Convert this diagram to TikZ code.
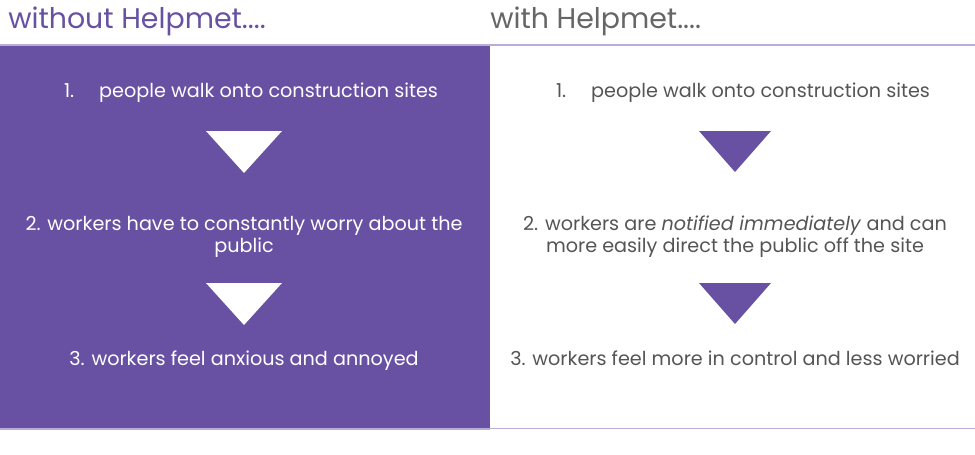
\documentclass[tikz,border=0pt]{standalone}
\usepackage{fontspec}
\setmainfont{Poppins}
\newfontfamily\bodyfont{Poppins}
\newfontfamily\headfont{Poppins}
\definecolor{hmpurple}{HTML}{6851A2}
\definecolor{hmline}{HTML}{B9ADD6}
\definecolor{hmgrey}{HTML}{555555}
\definecolor{hmhead}{HTML}{666666}
\begin{document}
\begin{tikzpicture}[x=0.75pt,y=-0.75pt,
  headtext/.style={anchor=west,inner sep=0pt,font=\headfont\fontsize{21.3}{24}\selectfont},
  steptext/.style={align=center,inner sep=0pt,text height=10.5pt,text depth=3.5pt,
    font=\bodyfont\fontsize{14.4}{16.5}\selectfont}]
\useasboundingbox (0,0) rectangle (975,454);
\fill[white] (0,0) rectangle (975,454);
% panels
\fill[hmpurple] (0,45) rectangle (490,429);
\draw[hmline,line width=1.2pt] (0,45) -- (975,45);
\draw[hmline,line width=1.2pt] (490,428.5) -- (975,428.5);
\draw[hmline,line width=0.8pt] (0,429) -- (490,429);
% headings
\node[headtext,text=hmpurple] (hl) at (8,21) {without Helpmet....};
\node[headtext,text=hmhead] (hr) at (490,21) {with Helpmet....};
% left column
\node[steptext,text=white] (l1) at (251,93) {1.\hspace{1.3em}people walk onto construction sites};
\node[steptext,text=white] (l2) at (244,248) {2. workers have to constantly worry about the\\public};
\node[steptext,text=white] (l3) at (244,361) {3. workers feel anxious and annoyed};
\fill[white] (206,131) -- (282,131) -- (244,173) -- cycle;
\fill[white] (206,283) -- (282,283) -- (244,325) -- cycle;
% right column
\node[steptext,text=hmgrey] (r1) at (743,93) {1.\hspace{1.3em}people walk onto construction sites};
\node[steptext,text=hmgrey] (r2) at (735,248) {2. workers are \textit{notified immediately} and can\\more easily direct the public off the site};
\node[steptext,text=hmgrey] (r3) at (735,361) {3. workers feel more in control and less worried};
\fill[hmpurple] (699,131) -- (771,131) -- (735,172) -- cycle;
\fill[hmpurple] (699,283) -- (771,283) -- (735,324) -- cycle;
\end{tikzpicture}
\end{document}
